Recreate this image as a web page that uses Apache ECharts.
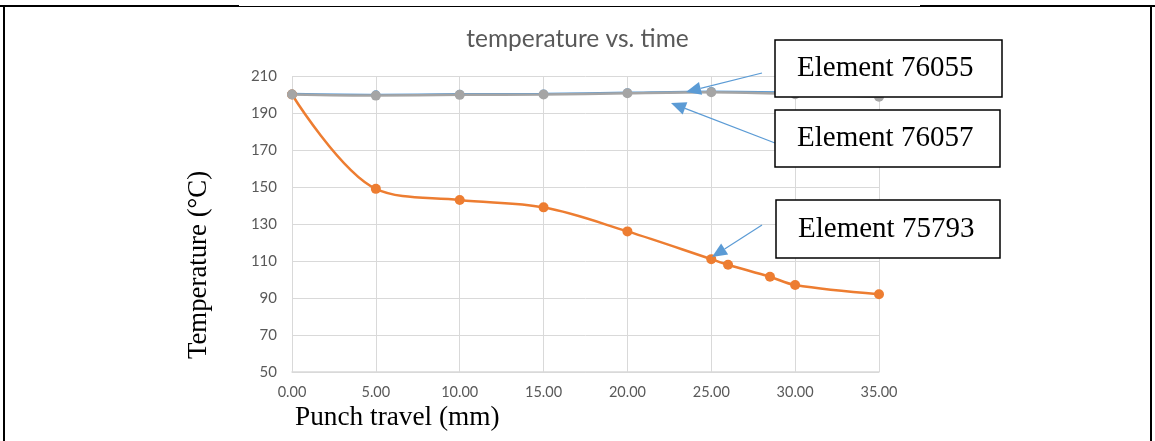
<!DOCTYPE html>
<html>
<head>
<meta charset="utf-8">
<script src="https://cdn.jsdelivr.net/npm/echarts@6/dist/echarts.min.js"></script>
<style>
html,body{margin:0;padding:0;background:#fff;}
#chart{width:1155px;height:441px;}
</style>
</head>
<body>
<div id="chart"></div>
<script>
// ---- data ----
const titleText = 'temperature vs. time';
const xAxisTitle = 'Punch travel (mm)';
const yAxisTitle = 'Temperature (°C)';
const seriesNames = ['Element 76055', 'Element 75793', 'Element 76057'];
const travelMain = [0, 5, 10, 15, 20, 25, 30, 35];
const travelOrange = [0, 5, 10, 15, 20, 25, 26, 28.5, 30, 35];
const temp76055 = [200.3, 199.8, 200.2, 200.3, 201.0, 201.6, 201.0, 199.6];
const temp75793 = [200, 149, 143, 139, 126, 111, 108, 101.5, 97, 92];
const temp76057 = [200, 199.4, 199.8, 200, 200.7, 201.2, 200.2, 198.8];
const yMin = 50, yMax = 210, yStep = 20;
const xMin = 0, xMax = 35, xStep = 5;

const pairs = (xs, ys) => xs.map((x, i) => [x, ys[i]]);

const chart = echarts.init(document.getElementById('chart'));

function arrow(x1, y1, x2, y2) {
  const dx = x2 - x1, dy = y2 - y1;
  const len = Math.sqrt(dx * dx + dy * dy);
  const ux = dx / len, uy = dy / len;
  const hl = 15, hw = 6.5;
  const bx = x2 - ux * hl, by = y2 - uy * hl;
  const px = -uy, py = ux;
  return [
    { type: 'line', shape: { x1: x1, y1: y1, x2: bx, y2: by },
      style: { stroke: '#5b9bd5', lineWidth: 1.2 }, z: 100 },
    { type: 'polygon', shape: { points: [[x2, y2], [bx + px * hw, by + py * hw], [bx - px * hw, by - py * hw]] },
      style: { fill: '#5b9bd5' }, z: 100 }
  ];
}

function box(x, y, w, h, text) {
  return [
    { type: 'rect', shape: { x: x, y: y, width: w, height: h },
      style: { fill: '#fff', stroke: '#000', lineWidth: 1.5 }, z: 100 },
    { type: 'text', x: x + 22, y: y + h / 2, z: 101,
      style: { text: text, font: '29px "Liberation Serif", "Times New Roman", serif', fill: '#000', verticalAlign: 'middle', textAlign: 'left' } }
  ];
}

const graphics = [].concat(
  [
    { type: 'rect', shape: { x: 0, y: 5, width: 239, height: 2 }, style: { fill: '#000' }, z: 90 },
    { type: 'rect', shape: { x: 239, y: 6, width: 681, height: 1 }, style: { fill: '#000' }, z: 90 },
    { type: 'rect', shape: { x: 920, y: 5, width: 235, height: 2 }, style: { fill: '#000' }, z: 90 },
    { type: 'rect', shape: { x: 3, y: 5, width: 2, height: 436 }, style: { fill: '#000' }, z: 90 },
    { type: 'rect', shape: { x: 1150, y: 5, width: 2, height: 436 }, style: { fill: '#000' }, z: 90 },
    { type: 'text', x: 295, y: 418, z: 90,
      style: { text: xAxisTitle, font: '27.3px "Liberation Serif", "Times New Roman", serif', fill: '#000', verticalAlign: 'middle', textAlign: 'left' } },
    { type: 'text', x: 199, y: 265, rotation: Math.PI / 2, z: 90,
      style: { text: yAxisTitle, font: '26.8px "Liberation Serif", "Times New Roman", serif', fill: '#000', verticalAlign: 'middle', textAlign: 'center' } }
  ],
  arrow(762, 73, 686, 92),
  arrow(775, 143, 671, 103),
  arrow(762, 225, 712, 257),
  box(775, 40, 227, 57, seriesNames[0]),
  box(775, 110, 225, 57, seriesNames[2]),
  box(776, 200, 224, 58, seriesNames[1])
);

chart.setOption({
  animation: false,
  backgroundColor: '#fff',
  title: {
    text: titleText, left: 'center', top: 22,
    textStyle: { fontFamily: 'Lato', fontSize: 24.5, fontWeight: 'normal', color: '#595959' }
  },
  grid: { left: 292, right: 276, top: 76, bottom: 69, containLabel: false },
  xAxis: {
    type: 'value', min: xMin, max: xMax, interval: xStep,
    axisLine: { show: true, lineStyle: { color: '#d9d9d9', width: 1.5 } },
    axisTick: { show: false },
    splitLine: { show: true, lineStyle: { color: '#d9d9d9', width: 1 } },
    axisLabel: { margin: 13, color: '#595959', fontFamily: 'Lato', fontSize: 14.5,
      formatter: v => v.toFixed(2) }
  },
  yAxis: {
    type: 'value', min: yMin, max: yMax, interval: yStep,
    axisLine: { show: false }, axisTick: { show: false },
    splitLine: { show: true, lineStyle: { color: '#d9d9d9', width: 1 } },
    axisLabel: { margin: 15, color: '#595959', fontFamily: 'Lato', fontSize: 15 }
  },
  series: [
    { name: seriesNames[0], type: 'line', data: pairs(travelMain, temp76055), smooth: 0.3,
      symbol: 'circle', symbolSize: 9, showSymbol: true,
      itemStyle: { color: '#5b9bd5' }, lineStyle: { color: '#5b9bd5', width: 2.25 } },
    { name: seriesNames[1], type: 'line', data: pairs(travelOrange, temp75793), smooth: 0.35,
      symbol: 'circle', symbolSize: 10,
      itemStyle: { color: '#ed7d31' }, lineStyle: { color: '#ed7d31', width: 2.5 } },
    { name: seriesNames[2], type: 'line', data: pairs(travelMain, temp76057), smooth: 0.3,
      symbol: 'circle', symbolSize: 10,
      itemStyle: { color: '#a5a5a5' }, lineStyle: { color: '#a5a5a5', width: 2.5 } }
  ],
  graphic: graphics
});
</script>
</body>
</html>
